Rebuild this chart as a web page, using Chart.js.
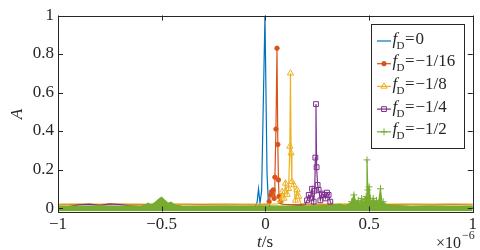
<!DOCTYPE html>
<html><head><meta charset="utf-8">
<script src="https://cdn.jsdelivr.net/npm/chart.js@4/dist/chart.umd.min.js"></script>
<style>html,body{margin:0;padding:0;background:#fff;overflow:hidden}</style>
</head><body>
<canvas id="c" width="480" height="250"></canvas>
<script>
// time in units of 1e-6 s, amplitude A
const blueT = [-1, -0.4, -0.05, -0.04, -0.033, -0.026, -0.018, -0.002, 0.008, 0.014, 0.022, 0.4, 1];
const blueA = [0.004, 0.004, 0.006, 0.03, 0.10, 0.025, 0.09, 1.0, 0.18, 0.04, 0.006, 0.004, 0.004];

const orangeT = [-1, -0.9, -0.8, -0.7, -0.6, -0.5, -0.4, -0.3, -0.2, -0.1, -0.02, 0.012, 0.018, 0.025, 0.030, 0.038, 0.042, 0.046, 0.051, 0.056, 0.060, 0.063, 0.066, 0.073, 0.08, 0.1, 0.2, 0.3, 0.4, 0.5, 0.6, 0.7, 0.8, 0.9, 1];
const orangeA = [0.018, 0.019, 0.018, 0.019, 0.018, 0.018, 0.019, 0.018, 0.019, 0.018, 0.018, 0.02, 0.033, 0.068, 0.085, 0.094, 0.05, 0.16, 0.41, 0.83, 0.33, 0.146, 0.06, 0.033, 0.02, 0.018, 0.019, 0.018, 0.019, 0.018, 0.018, 0.019, 0.018, 0.019, 0.018];

const yellowT = [-1, -0.9, -0.8, -0.7, -0.6, -0.5, -0.4, -0.3, -0.2, -0.1, 0, 0.06, 0.073, 0.081, 0.09, 0.097, 0.105, 0.112, 0.118, 0.121, 0.124, 0.128, 0.137, 0.145, 0.153, 0.161, 0.17, 0.19, 0.3, 0.4, 0.5, 0.6, 0.7, 0.8, 0.9, 1];
const yellowA = [0.02, 0.021, 0.02, 0.02, 0.021, 0.02, 0.02, 0.021, 0.02, 0.02, 0.02, 0.022, 0.04, 0.085, 0.05, 0.128, 0.07, 0.10, 0.32, 0.70, 0.285, 0.137, 0.12, 0.04, 0.094, 0.06, 0.025, 0.02, 0.021, 0.02, 0.02, 0.021, 0.02, 0.02, 0.021, 0.02];

const purpleT = [-1, -0.95, -0.9, -0.85, -0.8, -0.75, -0.7, -0.65, -0.6, -0.5, -0.4, -0.2, 0, 0.1, 0.19, 0.201, 0.209, 0.217, 0.225, 0.233, 0.238, 0.241, 0.244, 0.247, 0.252, 0.257, 0.265, 0.273, 0.281, 0.29, 0.297, 0.305, 0.313, 0.32, 0.4, 0.6, 0.8, 1];
const purpleA = [0.006, 0.008, 0.016, 0.02, 0.014, 0.022, 0.018, 0.012, 0.006, 0.005, 0.006, 0.005, 0.006, 0.008, 0.015, 0.04, 0.068, 0.05, 0.10, 0.033, 0.09, 0.262, 0.54, 0.212, 0.12, 0.094, 0.04, 0.075, 0.068, 0.05, 0.08, 0.068, 0.033, 0.015, 0.006, 0.005, 0.006, 0.005];

const greenT = [-1, -0.9, -0.8, -0.7, -0.65, -0.6, -0.58, -0.565, -0.555, -0.54, -0.525, -0.51, -0.5, -0.49, -0.48, -0.47, -0.455, -0.445, -0.43, -0.4, -0.3, -0.2, -0.1, 0, 0.1, 0.2, 0.3, 0.33, 0.36, 0.38, 0.4, 0.416, 0.427, 0.436, 0.448, 0.456, 0.464, 0.472, 0.48, 0.486, 0.49, 0.494, 0.5, 0.506, 0.513, 0.52, 0.528, 0.536, 0.545, 0.555, 0.562, 0.568, 0.58, 0.6, 0.7, 0.8, 0.9, 1];
const greenA = [0.01, 0.01, 0.011, 0.01, 0.011, 0.01, 0.014, 0.025, 0.018, 0.022, 0.035, 0.05, 0.056, 0.045, 0.035, 0.025, 0.03, 0.022, 0.014, 0.01, 0.01, 0.011, 0.01, 0.011, 0.01, 0.011, 0.012, 0.016, 0.02, 0.012, 0.018, 0.033, 0.068, 0.03, 0.04, 0.025, 0.05, 0.03, 0.045, 0.06, 0.25, 0.094, 0.11, 0.05, 0.03, 0.05, 0.03, 0.04, 0.025, 0.10, 0.03, 0.033, 0.02, 0.014, 0.01, 0.011, 0.01, 0.01];

const xTicks = [-1, -0.5, 0, 0.5, 1];
const yTicks = [0, 0.2, 0.4, 0.6, 0.8, 1];
const legendValues = ['0', '\u22121/16', '\u22121/8', '\u22121/4', '\u22121/2'];

const FONT = '"Liberation Serif","Times New Roman",serif';
const AX = '#262626';
const fmt = v => (v < 0 ? '\u2212' : '') + String(Math.abs(v));

const styles = [
  {color: '#0072BD', pointStyle: false, radius: 0, fillPt: false, order: 5},
  {color: '#D95319', pointStyle: 'circle', radius: 2.2, fillPt: true, order: 4},
  {color: '#EDB120', pointStyle: 'triangle', radius: 3.6, fillPt: false, order: 3},
  {color: '#7E2F8E', pointStyle: 'rect', radius: 3.4, fillPt: false, order: 2},
  {color: '#77AC30', pointStyle: 'cross', radius: 3.4, fillPt: false, order: 1}
];
const seriesT = [blueT, orangeT, yellowT, purpleT, greenT];
const seriesA = [blueA, orangeA, yellowA, purpleA, greenA];

const datasets = seriesT.map((T, k) => {
  const s = styles[k];
  return {
    label: legendValues[k],
    data: T.map((t, i) => ({x: t, y: seriesA[k][i]})),
    borderColor: s.color,
    borderWidth: 1.2,
    backgroundColor: k === 4 ? s.color : 'rgba(0,0,0,0)',
    fill: k === 4 ? 'start' : false,
    pointStyle: s.pointStyle || 'circle',
    pointRadius: c => (s.pointStyle && c.raw && c.raw.y > 0.03 && c.raw.x > 0) ? s.radius : 0,
    pointBorderColor: s.color,
    pointBackgroundColor: s.fillPt ? s.color : 'rgba(0,0,0,0)',
    pointBorderWidth: 1,
    order: s.order
  };
});

const decor = {
  id: 'decor',
  afterDraw(chart) {
    const ctx = chart.ctx;
    const {left, right, top, bottom} = chart.chartArea;
    const xs = chart.scales.x, ys = chart.scales.y;
    const r = v => Math.round(v) + 0.5;
    ctx.save();
    ctx.strokeStyle = AX; ctx.lineWidth = 1;
    ctx.strokeRect(r(left), r(top), Math.round(right) - Math.round(left), Math.round(bottom) - Math.round(top));
    ctx.beginPath();
    xTicks.forEach(v => {
      const p = r(xs.getPixelForValue(v));
      ctx.moveTo(p, bottom); ctx.lineTo(p, bottom - 5);
      ctx.moveTo(p, top); ctx.lineTo(p, top + 5);
    });
    yTicks.forEach(v => {
      const p = r(ys.getPixelForValue(v));
      ctx.moveTo(left, p); ctx.lineTo(left + 5, p);
      ctx.moveTo(right, p); ctx.lineTo(right - 5, p);
    });
    ctx.stroke();

    // axis titles
    ctx.fillStyle = AX;
    ctx.textBaseline = 'alphabetic';
    ctx.font = 'italic 17px ' + FONT;
    ctx.save();
    ctx.translate(22, 114);
    ctx.rotate(-Math.PI / 2);
    ctx.textAlign = 'center';
    ctx.fillText('A', 0, 0);
    ctx.restore();
    ctx.textAlign = 'left';
    ctx.font = 'italic 17px ' + FONT;
    const tw = ctx.measureText('t').width;
    ctx.font = '17px ' + FONT;
    const sw = ctx.measureText('/s').width;
    let x0 = 265 - (tw + sw) / 2;
    ctx.font = 'italic 17px ' + FONT;
    ctx.fillText('t', x0, 247);
    ctx.font = '17px ' + FONT;
    ctx.fillText('/s', x0 + tw, 247);
    // exponent
    ctx.font = '16px ' + FONT;
    ctx.fillText('\u00D710', 436, 247.5);
    ctx.font = '12px ' + FONT;
    ctx.fillText('\u22126', 462, 238.5);

    // legend
    const bx = 371, by = 24, bw = 93, bh = 124;
    ctx.fillStyle = '#fff';
    ctx.fillRect(bx, by, bw, bh);
    ctx.strokeStyle = AX;
    ctx.strokeRect(bx + 0.5, by + 0.5, bw, bh);
    legendValues.forEach((lab, k) => {
      const s = styles[k];
      const yl = 41 + k * 22.7;
      ctx.strokeStyle = s.color; ctx.lineWidth = 1.2;
      ctx.beginPath(); ctx.moveTo(377, yl); ctx.lineTo(391, yl); ctx.stroke();
      if (s.pointStyle) {
        ctx.fillStyle = s.fillPt ? s.color : 'rgba(0,0,0,0)';
        ctx.lineWidth = 1;
        Chart.helpers.drawPoint(ctx, {pointStyle: s.pointStyle, radius: s.radius, rotation: 0, borderWidth: 1}, 384, yl);
      }
      ctx.fillStyle = AX;
      ctx.font = 'italic 17px ' + FONT;
      ctx.fillText('f', 392.5, yl + 2.5);
      ctx.font = '11px ' + FONT;
      ctx.fillText('D', 396.5, yl + 7.5);
      const dw = ctx.measureText('D').width;
      ctx.font = '17px ' + FONT;
      let xx = 396.5 + dw + 0.5;
      ctx.fillText('=', xx, yl + 2.5);
      xx += ctx.measureText('=').width + 1;
      ctx.fillText(lab, xx, yl + 2.5);
    });
    ctx.restore();
  }
};

new Chart(document.getElementById('c'), {
  type: 'line',
  data: {datasets},
  options: {
    responsive: false,
    animation: false,
    devicePixelRatio: 1,
    events: [],
    layout: {padding: {left: 0, right: 3, top: 15.5, bottom: 0}},
    plugins: {legend: {display: false}, tooltip: {enabled: false}},
    scales: {
      x: {
        type: 'linear', min: -1, max: 1,
        afterBuildTicks: s => { s.ticks = xTicks.map(v => ({value: v})); },
        afterFit: s => { s.height = 38.5; },
        ticks: {callback: v => fmt(v), font: {family: FONT, size: 17}, color: AX, padding: 3, maxRotation: 0, autoSkip: false},
        grid: {display: false, drawTicks: false},
        border: {display: false}
      },
      y: {
        type: 'linear', min: -0.018, max: 1,
        afterBuildTicks: s => { s.ticks = yTicks.map(v => ({value: v})); },
        afterFit: s => { s.width = 58; },
        ticks: {callback: v => fmt(v), font: {family: FONT, size: 17}, color: AX, padding: 4},
        grid: {display: false, drawTicks: false},
        border: {display: false}
      }
    }
  },
  plugins: [decor]
});
</script>
</body></html>
